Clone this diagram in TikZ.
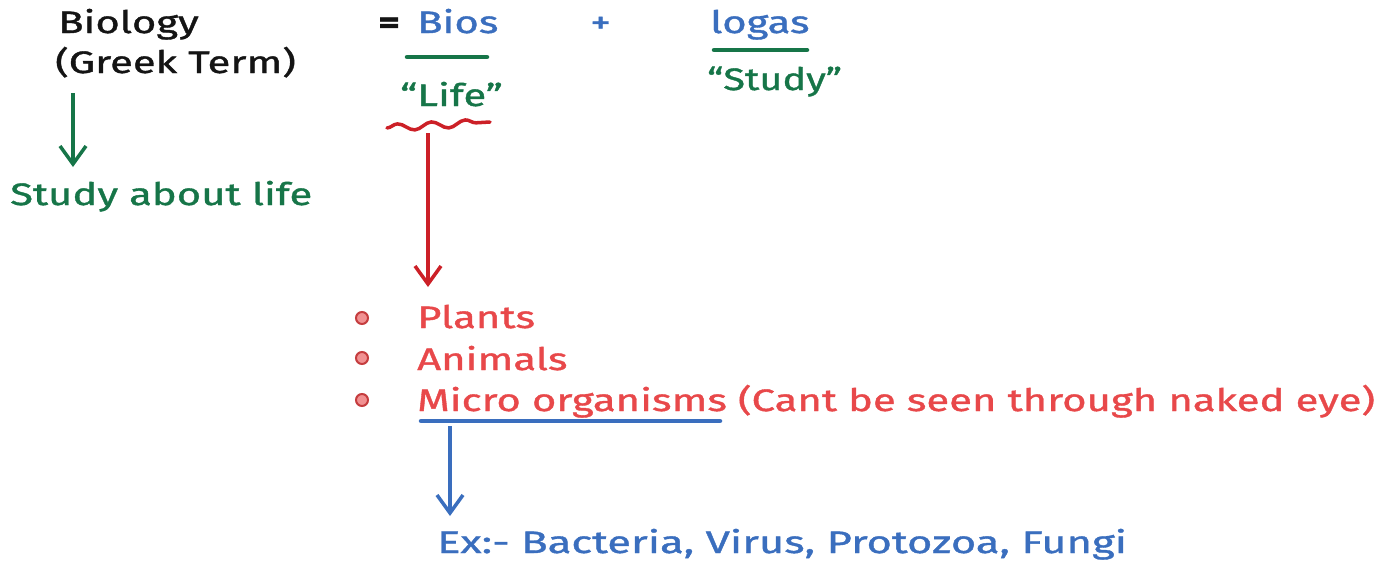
\documentclass[tikz,border=0pt]{standalone}
\usepackage{fontspec}
\setmainfont[FakeStretch=1.35,FakeBold=1.2]{Fira Sans}
\usetikzlibrary{arrows.meta,decorations.pathmorphing}
\definecolor{ink}{RGB}{20,20,20}
\definecolor{bblue}{RGB}{58,110,190}
\definecolor{ggreen}{RGB}{22,117,72}
\definecolor{rtext}{RGB}{232,72,74}
\definecolor{rline}{RGB}{204,32,39}
\begin{document}
\begin{tikzpicture}[x=1pt,y=-1pt,
  txt/.style={inner sep=0pt, anchor=base west, font=\fontsize{31}{36}\selectfont},
  arr/.style={line width=3.5pt, -{Straight Barb[length=18pt,width=26pt,line width=3.5pt]}},
  uline/.style={line width=4.5pt, line cap=round},
  bullet/.style={circle, draw=rtext!85!black, fill=rtext!60, line width=2pt, minimum size=12pt, inner sep=0pt}]
\useasboundingbox (0,0) rectangle (1393,563);
% left column
\node[txt, text=ink] (bio) at (58,33) {Biology};
\node[txt, text=ink] (greek) at (55,73) {(Greek Term)};
\node[txt, text=ggreen] (study) at (10,205) {Study about life};
\coordinate (g1) at (73,93);
\coordinate (g2) at (73,167);
\draw[arr, ggreen] (g1) -- (g2);
% equation
\node[txt, text=ink] (eq) at (378,33) {\textbf{=}};
\node[txt, text=bblue] (bios) at (417,33) {Bios};
\node[txt, text=bblue] (plus) at (590,33) {+};
\node[txt, text=bblue] (logas) at (710,33) {logas};
\coordinate (b1) at (407,57); \coordinate (b2) at (487,57);
\draw[uline, ggreen] (b1) -- (b2);
\coordinate (l1) at (714,50); \coordinate (l2) at (807,50);
\draw[uline, ggreen] (l1) -- (l2);
\node[txt, text=ggreen] (life) at (400,106) {“Life”};
\node[txt, text=ggreen] (stdy) at (707,90) {\scalebox{0.95}[1]{“Study”}};
% wavy
\coordinate (w1) at (387,128); \coordinate (w2) at (490,122);
\draw[rline, line width=3.5pt, line cap=round, decorate, decoration={snake, segment length=34pt, amplitude=3.5pt}] (w1) -- (w2);
\coordinate (r1) at (428,133); \coordinate (r2) at (428,287);
\draw[arr, rline] (r1) -- (r2);
% list
\node[bullet] (d1) at (362,318) {};
\node[bullet] (d2) at (362,358) {};
\node[bullet] (d3) at (362,400) {};
\node[txt, text=rtext] (plants) at (417,328) {Plants};
\node[txt, text=rtext] (animals) at (417,370) {Animals};
\node[txt, text=rtext] (micro) at (417,411) {Micro organisms (Cant be seen through naked eye)};
\coordinate (m1) at (421,421); \coordinate (m2) at (720,421);
\draw[bblue, uline] (m1) -- (m2);
\coordinate (e1) at (450,426); \coordinate (e2) at (450,516);
\draw[arr, bblue] (e1) -- (e2);
\node[txt, text=bblue] (ex) at (437,553) {\scalebox{1.04}[1]{Ex:- Bacteria, Virus, Protozoa, Fungi}};
\end{tikzpicture}
\end{document}
